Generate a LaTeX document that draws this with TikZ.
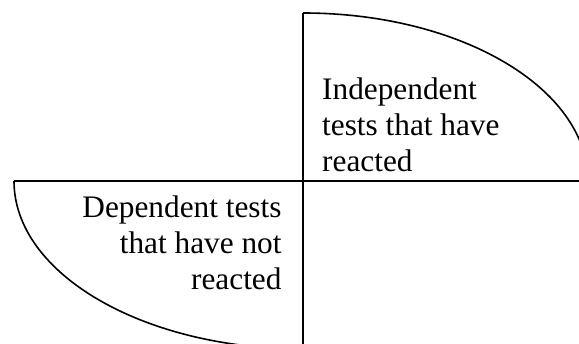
\documentclass[tikz,border=0pt]{standalone}
\usepackage{fontspec}
\setmainfont{Liberation Serif}
\begin{document}
\begin{tikzpicture}[x=1pt,y=-1pt,
  rule/.style={line width=1.6pt,black},
  label/.style={inner sep=0pt,font=\fontsize{31.3}{36.2}\selectfont}]
\useasboundingbox[fill=white] (0,0) rectangle (579,344);
\clip (0,0) rectangle (579,344);
% axes
\coordinate (top) at (303,13);
\coordinate (bottom) at (303,350);
\coordinate (left) at (14,181);
\coordinate (right) at (580,181);
\draw[rule] (top) -- (bottom);
\draw[rule] (left) -- (right);
% quadrant arcs
\draw[rule] (top) arc[start angle=90,end angle=0,x radius=285,y radius=-168];
\draw[rule] (left) arc[start angle=180,end angle=270,x radius=289,y radius=-168];
% quadrant labels (anchored on the baseline of the last line)
\node[label,anchor=base west,align=left] (indep) at (322,171.7)
  {Independent\\tests that have\\reacted};
\node[label,anchor=base east,align=right] (dep) at (281.7,290)
  {Dependent tests\\that have not\\reacted};
\end{tikzpicture}
\end{document}
